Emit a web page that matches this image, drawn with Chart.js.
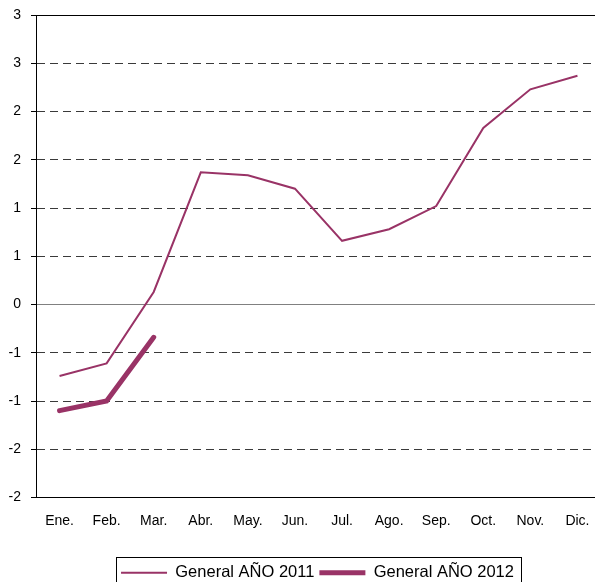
<!DOCTYPE html>
<html>
<head>
<meta charset="utf-8">
<script src="https://cdn.jsdelivr.net/npm/chart.js@4.4.0/dist/chart.umd.min.js"></script>
<style>
  html, body { margin: 0; padding: 0; background: #fff; overflow: hidden; }
  #wrap { width: 595px; height: 582px; overflow: hidden; }
</style>
</head>
<body>
<div id="wrap"><canvas id="grafico" width="601" height="582"></canvas></div>
<script>
const meses = ["Ene.", "Feb.", "Mar.", "Abr.", "May.", "Jun.", "Jul.", "Ago.", "Sep.", "Oct.", "Nov.", "Dic."];
const general2011 = [-0.74, -0.61, 0.13, 1.37, 1.34, 1.20, 0.66, 0.78, 1.02, 1.83, 2.23, 2.37];
const general2012 = [-1.10, -1.00, -0.34];
const ejeMin = -2;
const ejeMax = 3;
const ejePaso = 0.5;

const color = "#993366";
const fuente = "'Liberation Sans', Arial, sans-serif";

// corre la leyenda un poco a la derecha y le pone un recuadro
const marcoLeyenda = {
  id: "marcoLeyenda",
  afterUpdate(chart) {
    const leyenda = chart.legend;
    const dx = 17;
    leyenda.left += dx;
    leyenda.right += dx;
    (leyenda.legendHitBoxes || []).forEach((h) => { h.left += dx; });
  },
  afterDraw(chart) {
    const cajas = chart.legend.legendHitBoxes;
    if (!cajas || !cajas.length) return;
    const ultima = cajas[cajas.length - 1];
    const izq = cajas[0].left - 5;
    const der = ultima.left + ultima.width + 7;
    const arriba = cajas[0].top - 8;
    const ctx = chart.ctx;
    ctx.save();
    ctx.strokeStyle = "#000";
    ctx.lineWidth = 1;
    ctx.strokeRect(Math.round(izq) + 0.5, Math.round(arriba) + 0.5, Math.round(der - izq), 40);
    ctx.restore();
  }
};

new Chart(document.getElementById("grafico").getContext("2d"), {
  type: "line",
  data: {
    labels: meses,
    datasets: [
      {
        label: "General AÑO 2011",
        data: general2011,
        borderColor: color,
        backgroundColor: color,
        borderWidth: 2,
        pointRadius: 0,
        tension: 0,
      },
      {
        label: "General AÑO 2012",
        data: general2012,
        borderColor: color,
        backgroundColor: color,
        borderWidth: 5,
        pointRadius: 0,
        tension: 0,
        borderCapStyle: "round",
      },
    ],
  },
  plugins: [marcoLeyenda],
  options: {
    responsive: false,
    animation: false,
    layout: {
      padding: { top: 15, right: 0, bottom: -9, left: 0 },
    },
    plugins: {
      tooltip: { enabled: false },
      legend: {
        position: "bottom",
        labels: {
          usePointStyle: true,
          pointStyle: "line",
          pointStyleWidth: 46,
          color: "#000",
          padding: 5,
          font: { family: fuente, size: 16.5 },
        },
      },
    },
    scales: {
      x: {
        offset: true,
        grid: { display: false },
        border: { display: true, color: "#000", width: 1 },
        ticks: {
          color: "#000",
          padding: 7,
          maxRotation: 0,
          autoSkip: false,
          font: { family: fuente, size: 14 },
        },
        afterFit(scale) {
          scale.height = 62;
          scale.paddingLeft = 0;
          scale.paddingRight = 0;
        },
      },
      y: {
        min: ejeMin,
        max: ejeMax,
        grid: {
          color: (c) => {
            if (c.tick && c.tick.value === 0) return "#808080";
            if (c.tick && c.tick.value === ejeMax) return "#000";
            return "#3a3a3a";
          },
          lineWidth: 1,
          tickLength: 5,
          tickColor: "#000",
        },
        border: {
          display: true,
          color: "#000",
          dash: (c) => {
            if (c.tick && (c.tick.value === 0 || c.tick.value === ejeMax || c.tick.value === ejeMin)) return [];
            return [8, 5];
          },
        },
        ticks: {
          stepSize: ejePaso,
          color: "#000",
          padding: 10,
          font: { family: fuente, size: 14 },
          callback: (v) => {
            const r = Math.sign(v) * Math.round(Math.abs(v));
            return r === 0 ? "0" : String(r);
          },
        },
        afterFit(scale) {
          scale.width = 36;
          scale.paddingTop = 0;
          scale.paddingBottom = 0;
        },
      },
    },
  },
});
</script>
</body>
</html>
